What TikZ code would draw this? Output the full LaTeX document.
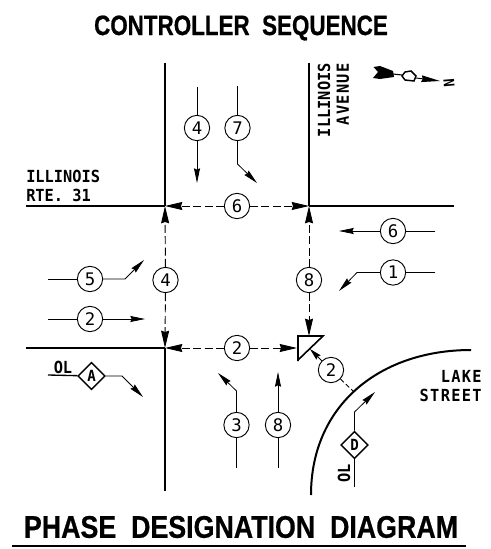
\documentclass[tikz,border=0pt]{standalone}
\usepackage{fontspec}
\usetikzlibrary{arrows.meta,shapes.geometric}
\newfontfamily\titlefont[FakeStretch=0.8,FakeBold=0.6]{Liberation Sans Bold}
\newfontfamily\bigtitlefont[FakeStretch=0.855,FakeBold=0.6]{Liberation Sans Bold}
\newfontfamily\labfont[FakeStretch=0.92]{DejaVu Sans Mono Bold}
\newfontfamily\labwide[FakeStretch=0.92,LetterSpace=8]{DejaVu Sans Mono Bold}
\newfontfamily\numfont{DejaVu Sans Mono}

\begin{document}
\begin{tikzpicture}[
    x=0.75pt, y=-0.75pt,
    >={Stealth[length=11pt,width=4.5pt,inset=1pt]},
    font=\labfont\fontsize{12.5}{14}\selectfont,
    road/.style={line width=1.5pt},
    phase/.style={line width=0.6pt, ->},
    plain/.style={line width=0.6pt},
    ped/.style={line width=0.7pt, dash pattern=on 6pt off 2.5pt,
                >={Stealth[length=13pt,width=6pt,inset=1pt]}, ->},
    num/.style={circle, draw, line width=0.7pt, minimum size=19pt, inner sep=0pt,
                font=\numfont\fontsize{13}{14}\selectfont},
    ol/.style={diamond, draw, line width=1pt, minimum size=20.5pt, inner sep=0pt,
               font=\labfont\fontsize{11.5}{13}\selectfont},
    lbl/.style={inner sep=0pt, align=left},
    wide/.style={lbl, font=\labwide\fontsize{12.5}{14}\selectfont},
  ]
  \useasboundingbox (0,0) rectangle (490,549);
  \fill[white] (0,0) rectangle (490,549);

  %% ===== TITLES =====
  \node[inner sep=0pt, font=\titlefont\fontsize{21}{24}\selectfont] (top) at (241,28) {CONTROLLER\ \ SEQUENCE};
  \node[inner sep=0pt, font=\bigtitlefont\fontsize{23.5}{26}\selectfont] (bot) at (241,527) {PHASE\ \ DESIGNATION\ \ DIAGRAM};
  \coordinate (ruleL) at (12,546);
  \coordinate (ruleR) at (466,546);
  \draw[line width=0.9pt] (ruleL) -- (ruleR);

  %% ===== ROADS =====
  \coordinate (jNW) at (165,206);
  \coordinate (jNE) at (309,206);
  \coordinate (jSW) at (165,348);
  \coordinate (v1top) at (165,63);
  \coordinate (v1bot) at (165,491);
  \coordinate (v2top) at (309,63);
  \coordinate (h1L) at (26,206);
  \coordinate (h1R) at (454,206);
  \coordinate (h2L) at (26,348);
  \draw[road] (v1top) -- (jNW);
  \draw[road] (jSW) -- (v1bot);
  \draw[road] (v2top) -- (jNE);
  \draw[road] (h1L) -- (jNW);
  \draw[road] (jNE) -- (h1R);
  \draw[road] (h2L) -- (jSW);
  \coordinate (lakeA) at (311,495);
  \coordinate (lakeB) at (471,350);
  \draw[road] (lakeA) .. controls (311,405) and (380,350) .. (lakeB);

  %% Road names
  \node[lbl, anchor=west] (rte1) at (26,176) {ILLINOIS};
  \node[lbl, anchor=west] (rte2) at (26,195) {RTE. 31};
  \node[lbl, rotate=90, anchor=east] (ave1) at (324,63) {ILLINOIS};
  \node[wide, rotate=90, anchor=east] (ave2) at (343,63) {AVENUE};
  \node[wide, anchor=east] (lake1) at (482,376) {LAKE};
  \node[wide, anchor=east] (lake2) at (482,395) {STREET};

  %% ===== SIGNAL HEAD =====
  \coordinate (sigA) at (298,336);
  \coordinate (sigB) at (323,336);
  \coordinate (sigC) at (298,361);
  \draw[line width=1.2pt] (sigC) -- (sigA) -- (sigB) -- (298,360);

  %% ===== PEDESTRIAN PHASES (dashed) =====
  \node[num] (p6) at (237,206) {6};
  \draw[ped] (p6) -- (jNW);
  \draw[ped] (p6) -- (jNE);

  \node[num] (p4) at (165.5,280) {4};
  \draw[ped] (p4) -- (jNW);
  \draw[ped] (p4) -- (jSW);

  \node[num] (p8) at (309,280) {8};
  \coordinate (sigT) at (309,336);
  \draw[ped] (p8) -- (jNE);
  \draw[ped] (p8) -- (sigT);

  \node[num] (p2) at (237,348) {2};
  \coordinate (sigW) at (297,348);
  \draw[ped] (p2) -- (jSW);
  \draw[ped] (p2) -- (sigW);

  \node[num] (p2d) at (331,370) {2};
  \coordinate (sigD) at (310,349);
  \coordinate (lakeP) at (353,391);
  \draw[line width=0.7pt, ->, >={Stealth[length=9pt,width=4.5pt,inset=1pt]}] (p2d) -- (sigD);
  \draw[line width=0.7pt, dash pattern=on 3.5pt off 2pt] (p2d) -- (lakeP);

  %% ===== VEHICLE PHASES =====
  %% South-bound lanes
  \node[num] (v4) at (197,128) {4};
  \coordinate (v4a) at (197,87);
  \coordinate (v4b) at (197,183);
  \draw[plain] (v4a) -- (v4);
  \draw[phase] (v4) -- (v4b);

  \node[num] (v7) at (237.5,128) {7};
  \coordinate (v7a) at (237.5,86);
  \coordinate (v7b) at (237.5,164);
  \coordinate (v7c) at (257,183);
  \draw[plain] (v7a) -- (v7);
  \draw[phase] (v7) -- (v7b) -- (v7c);

  %% West-bound lanes
  \node[num] (v6) at (393,231) {6};
  \coordinate (v6a) at (435,231);
  \coordinate (v6b) at (339,231);
  \draw[plain] (v6a) -- (v6);
  \draw[phase] (v6) -- (v6b);

  \node[num] (v1) at (393,272.5) {1};
  \coordinate (v1a) at (435,272.5);
  \coordinate (v1b) at (357,272.5);
  \coordinate (v1c) at (339,291);
  \draw[plain] (v1a) -- (v1);
  \draw[phase] (v1) -- (v1b) -- (v1c);

  %% East-bound lanes
  \node[num] (v5) at (90,279) {5};
  \coordinate (v5a) at (48,279);
  \coordinate (v5b) at (125,279);
  \coordinate (v5c) at (144,260);
  \draw[plain] (v5a) -- (v5);
  \draw[phase] (v5) -- (v5b) -- (v5c);

  \node[num] (v2) at (90,319) {2};
  \coordinate (v2a) at (48,319);
  \coordinate (v2b) at (145,319);
  \draw[plain] (v2a) -- (v2);
  \draw[phase] (v2) -- (v2b);

  %% North-bound lanes
  \node[num] (v3) at (236.5,425) {3};
  \coordinate (v3a) at (236.5,468);
  \coordinate (v3b) at (236.5,391);
  \coordinate (v3c) at (218,373);
  \draw[plain] (v3a) -- (v3);
  \draw[phase] (v3) -- (v3b) -- (v3c);

  \node[num] (v8) at (278,425) {8};
  \coordinate (v8a) at (278,468);
  \coordinate (v8b) at (278,372);
  \draw[plain] (v8a) -- (v8);
  \draw[phase] (v8) -- (v8b);

  %% ===== OVERLAPS =====
  \node[ol] (olA) at (91.5,376) {A};
  \coordinate (olAa) at (48,375);
  \coordinate (olAb) at (122,376);
  \coordinate (olAc) at (143,397);
  \draw[line width=1pt] (olAa) -- (olA);
  \draw[phase] (olA) -- (olAb) -- (olAc);
  \node[lbl] (olAt) at (63,367) {OL};

  \node[ol] (olD) at (354.5,445) {D};
  \coordinate (olDa) at (354.5,487);
  \coordinate (olDb) at (354.5,412);
  \coordinate (olDc) at (375,392);
  \draw[line width=1pt] (olDa) -- (olD);
  \draw[phase] (olD) -- (olDb) -- (olDc);
  \node[lbl, rotate=90] (olDt) at (344,473) {OL};

  %% ===== NORTH ARROW =====
  \fill (373.5,67) -- (380,66) -- (393,71) -- (394,77) -- (380,79) -- (373,78) -- (378,72) -- cycle;
  \draw[line width=0.8pt] (393,74) -- (402,75);
  \draw[line width=1.1pt] (402,76) -- (405,72) -- (411,71) -- (416,76) -- (414,81) -- (405,80) -- cycle;
  \draw[line width=0.7pt, ->, >={Stealth[length=14pt,width=5pt,inset=1pt]}] (416,78) -- (440,81);
  \node[inner sep=0pt, rotate=-85, font=\labfont\fontsize{11}{12}\selectfont] (north) at (449,83) {N};
\end{tikzpicture}
\end{document}
